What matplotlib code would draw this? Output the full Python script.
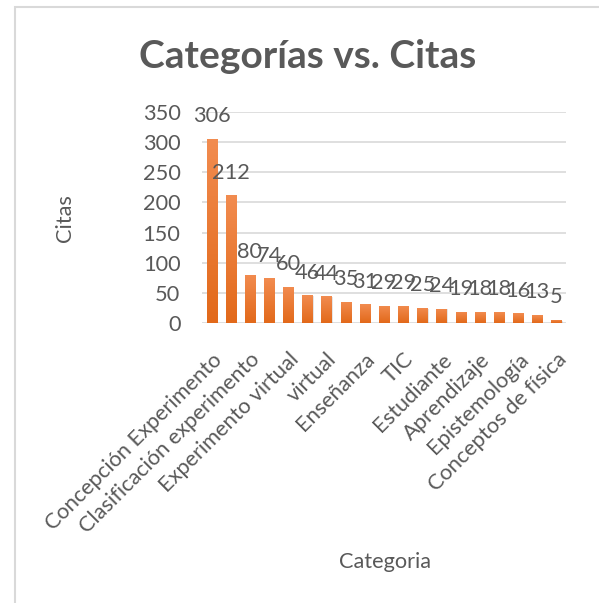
import matplotlib
matplotlib.use("Agg")
import matplotlib.pyplot as plt
import numpy as np
from matplotlib.colors import LinearSegmentedColormap
from matplotlib.patches import Rectangle
from matplotlib.transforms import ScaledTranslation

# ---- data ----
categories = ["Concepción Experimento", "", "Clasificación experimento", "",
              "Experimento virtual", "", "virtual", "", "Enseñanza", "",
              "TIC", "", "Estudiante", "", "Aprendizaje", "", "Epistemología", "",
              "Conceptos de física"]
citas = [306, 212, 80, 74, 60, 46, 44, 35, 31, 29, 29, 25, 24, 19, 18, 18, 16, 13, 5]
yticks = [0, 50, 100, 150, 200, 250, 300, 350]

title = "Categorías vs. Citas"
xlabel = "Categoria"
ylabel = "Citas"

TXT = "#595959"
FONT = "Lato"
FS = 15.7

W, H = 599, 603
fig = plt.figure(figsize=(W / 100, H / 100), dpi=100)
fig.patch.set_facecolor("white")

# chart frame (partially visible)
fig.add_artist(Rectangle((15 / W, -0.1), 1.2, 1 - 7 / H + 0.1, transform=fig.transFigure,
                         fill=False, edgecolor="#D9D9D9", lw=1.5))

ax = fig.add_axes([202 / W, 1 - 323 / H, 364 / W, 211 / H])
x = np.arange(len(citas))
bw = 0.53
ax.set_xlim(-0.5, len(citas) - 0.5)
ax.set_ylim(0, 350)

cmap = LinearSegmentedColormap.from_list("og", ["#E2691A", "#F28C50"])
grad = np.linspace(0, 1, 256).reshape(-1, 1)
bars = ax.bar(x, citas, width=bw, color="#EC7A30", zorder=3)
for b in bars:
    x0, y0 = b.get_x(), b.get_y()
    w, h = b.get_width(), b.get_height()
    # soft shadow
    ax.bar(x0 + w / 2 + 0.06, h, width=w, bottom=-1.2, color="#000000", alpha=0.10, zorder=2)
    im = ax.imshow(grad, extent=[x0, x0 + w, y0, y0 + h], origin="lower", cmap=cmap,
                   aspect="auto", zorder=4)
    im.set_clip_path(b)

for xi, v in zip(x, citas):
    ax.annotate(str(v), (xi, v), xytext=(0, 12), textcoords="offset points",
                ha="center", va="baseline", fontsize=FS, color=TXT, family=FONT, zorder=5)

ax.set_yticks(yticks)
ax.set_yticklabels([str(t) for t in yticks], fontsize=FS, color=TXT, family=FONT)
ax.set_xticks(x)
ax.set_xticklabels(categories, rotation=45, ha="right", rotation_mode="anchor",
                   fontsize=FS, color=TXT, family=FONT)
shift = ScaledTranslation(-4 / 100, 2 / 100, fig.dpi_scale_trans)
for lbl in ax.get_xticklabels():
    lbl.set_transform(lbl.get_transform() + shift)
ax.tick_params(axis="both", length=0)
ax.tick_params(axis="y", pad=15.5)
ax.tick_params(axis="x", pad=19)
for s in ax.spines.values():
    s.set_visible(False)
ax.grid(axis="y", color="#D9D9D9", lw=1.2, zorder=0)
ax.set_axisbelow(True)

fig.text(308 / W, 1 - 56 / H, title, ha="center", va="center", fontsize=28,
         fontweight="bold", color=TXT, family=FONT)
fig.text(65 / W, 1 - 218 / H, ylabel, ha="center", va="center", rotation=90,
         fontsize=FS, color=TXT, family=FONT)
fig.text(385 / W, 1 - 562 / H, xlabel, ha="center", va="center",
         fontsize=FS, color=TXT, family=FONT)

fig.savefig("out.png", dpi=100, facecolor="white")
